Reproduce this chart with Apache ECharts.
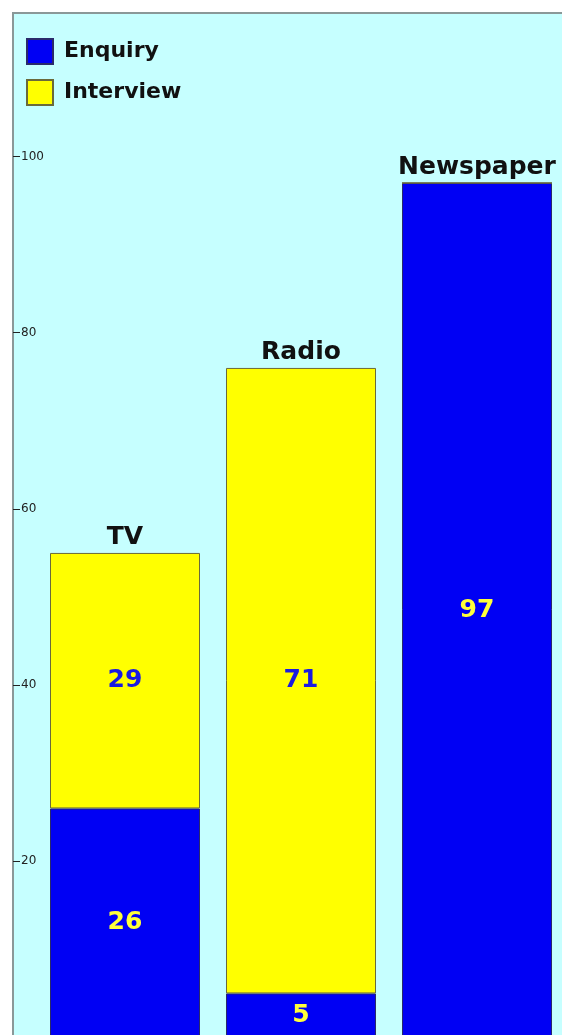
<!DOCTYPE html>
<html>
<head>
<meta charset="utf-8">
<script src="https://cdn.jsdelivr.net/npm/echarts@6/dist/echarts.min.js"></script>
<style>
  html, body { margin: 0; padding: 0; background: #fff; }
  .panel {
    position: absolute; left: 12px; top: 12px; width: 550px; height: 1023px;
    background: #c6ffff; border-left: 2px solid #8a9898; border-top: 2px solid #8a9898;
  }
  .chart { position: absolute; left: 0; top: 0; width: 562px; height: 1035px; }
</style>
</head>
<body>
<div class="panel"></div>
<div class="chart" id="chart"></div>
<script>
const categories = ['TV', 'Radio', 'Newspaper'];
const enquiry = [26, 5, 97];
const interview = [29, 71, 0];
const yTicks = { min: 0, max: 100, interval: 20 };

const chart = echarts.init(document.getElementById('chart'));

const valueLabel = (color) => ({
  show: true,
  position: 'inside',
  color: color,
  fontFamily: 'DejaVu Sans',
  fontWeight: 'bold',
  fontSize: 25,
  formatter: (p) => (p.value ? String(p.value) : '')
});

chart.setOption({
  animation: false,
  legend: {
    orient: 'vertical',
    left: 26,
    top: 38,
    padding: 0,
    itemWidth: 26,
    itemHeight: 25,
    itemGap: 14,
    icon: 'rect',
    data: ['Enquiry', 'Interview'],
    textStyle: {
      fontFamily: 'DejaVu Sans',
      fontWeight: 'bold',
      fontSize: 22,
      color: '#111',
      padding: [0, 0, 0, 6]
    }
  },
  grid: {
    left: 37,
    right: -3,
    top: 156.5,
    bottom: -2.5,
    outerBoundsMode: 'none'
  },
  xAxis: {
    type: 'category',
    data: categories,
    axisLine: { show: false },
    axisTick: { show: false },
    axisLabel: { show: false }
  },
  yAxis: {
    type: 'value',
    min: yTicks.min,
    max: yTicks.max,
    interval: yTicks.interval,
    offset: 24,
    axisLine: { show: false },
    splitLine: { show: false },
    axisTick: {
      show: true,
      inside: true,
      length: 7,
      lineStyle: { color: '#222', width: 1 }
    },
    axisLabel: {
      inside: true,
      margin: 8,
      showMinLabel: false,
      fontFamily: 'DejaVu Sans',
      fontSize: 12,
      color: '#222'
    }
  },
  series: [
    {
      name: 'Enquiry',
      type: 'bar',
      stack: 'total',
      barWidth: 150,
      data: enquiry,
      itemStyle: { color: '#0000f4', borderColor: '#2a2a6a', borderWidth: 1 },
      label: valueLabel('#ffff3a')
    },
    {
      name: 'Interview',
      type: 'bar',
      stack: 'total',
      barWidth: 150,
      data: interview,
      itemStyle: { color: '#ffff00', borderColor: '#6a6a3a', borderWidth: 1 },
      label: valueLabel('#1a1ae0')
    },
    {
      name: 'names',
      type: 'bar',
      stack: 'total',
      barWidth: 150,
      data: categories.map(() => 0),
      itemStyle: { color: 'transparent' },
      label: {
        show: true,
        position: 'top',
        distance: 3,
        formatter: '{b}',
        fontFamily: 'DejaVu Sans',
        fontWeight: 'bold',
        fontSize: 25,
        color: '#111'
      }
    }
  ]
});
</script>
</body>
</html>
